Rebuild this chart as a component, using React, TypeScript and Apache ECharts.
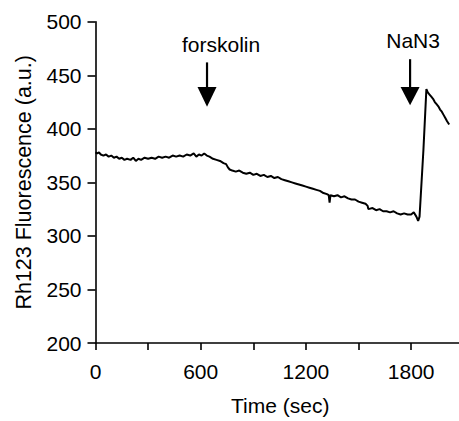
import React, { useEffect, useRef } from "react";
import * as echarts from "echarts";

const times = [
  0, 10, 20, 30, 45, 60, 75, 90, 105, 120, 135, 150, 165, 180, 200, 215, 230, 245, 260, 280,
  300, 320, 340, 360, 380, 400, 420, 440, 460, 480, 500, 520, 540, 560, 575, 590, 605, 620, 635, 650,
  670, 690, 710, 730, 745, 755, 765, 780, 800, 820, 840, 860, 880, 900, 920, 940, 960, 980, 1000, 1020,
  1040, 1060, 1080, 1100, 1120, 1140, 1160, 1180, 1200, 1220, 1240, 1260, 1280, 1300, 1320, 1330, 1335, 1340, 1360, 1380,
  1400, 1420, 1440, 1460, 1480, 1500, 1520, 1540, 1552, 1556, 1580, 1600, 1620, 1640, 1660, 1680, 1700, 1720, 1740, 1760,
  1780, 1800, 1815, 1830, 1840, 1848, 1870, 1887, 1895, 1905, 1915, 1925, 1935, 1945, 1955, 1965, 1975, 1985, 1995, 2005,
  2017,
];
const fluorescence = [
  378, 377, 378, 376, 375, 376, 374, 375, 373, 374, 372, 373, 371, 372, 371, 373, 370, 372, 371, 373,
  372, 373, 372, 374, 373, 374, 373, 375, 374, 375, 374, 376, 375, 377, 374, 376, 375, 377, 375, 374,
  372, 371, 370, 368, 367, 364, 362, 361, 360, 361, 359, 358, 359, 357, 358, 356, 357, 355, 356, 354,
  355, 353, 352, 351, 350, 349, 348, 347, 346, 345, 344, 343, 342, 340, 339, 338, 331, 338, 337, 338,
  336, 337, 335, 334, 334, 332, 331, 330, 328, 325, 326, 324, 325, 323, 323, 322, 323, 321, 320, 321,
  320, 320, 322, 318, 314, 318, 380, 437, 434, 432, 430, 428, 425, 423, 421, 418, 416, 413, 410, 407,
  404,
];

const yTicks = [200, 250, 300, 350, 400, 450, 500];
const xTickValues = [0, 300, 600, 900, 1200, 1500, 1800];
const xLabelValues = [0, 600, 1200, 1800];
const xMax = 2073;

const annotationLabels = ["forskolin", "NaN3"];
const annotationTime = [636, 1794];
const arrowTop = [462, 465];
const arrowHeadBase = [439, 439];
const arrowTip = [420.5, 422];
const labelTime = [716, 1811];
const labelValue = [479, 482.5];

const FONT = "Liberation Sans, Arial, Helvetica, sans-serif";

export default function App() {
  const ref = useRef<HTMLDivElement>(null);
  useEffect(() => {
    if (!ref.current) return;
    const chart = echarts.init(ref.current, undefined, { renderer: "svg" });
    const annData = annotationLabels.map((_, i) => [
      annotationTime[i],
      arrowTop[i],
      arrowHeadBase[i],
      arrowTip[i],
      labelTime[i],
      labelValue[i],
    ]);
    chart.setOption({
      animation: false,
      backgroundColor: "#ffffff",
      grid: { left: 95.5, right: 0, top: 21.7, bottom: 74.3, containLabel: false },
      xAxis: {
        type: "value",
        min: 0,
        max: xMax,
        interval: 300,
        name: "Time (sec)",
        nameLocation: "middle",
        nameGap: 52,
        nameTextStyle: { fontFamily: FONT, fontSize: 21, color: "#000", padding: [0, 0, 0, 6] },
        axisLine: { show: true, lineStyle: { color: "#000", width: 1.6 } },
        axisTick: {
          show: true,
          length: 7,
          inside: false,
          customValues: xTickValues,
          lineStyle: { color: "#000", width: 1.6 },
        },
        axisLabel: {
          fontFamily: FONT,
          fontSize: 21,
          color: "#000",
          margin: 18,
          customValues: xLabelValues,
          formatter: (v: number) => (xLabelValues.indexOf(v) >= 0 ? String(v) : ""),
        },
        splitLine: { show: false },
      },
      yAxis: {
        type: "value",
        min: yTicks[0],
        max: yTicks[yTicks.length - 1],
        interval: 50,
        name: "Rh123 Fluorescence (a.u.)",
        nameLocation: "middle",
        nameGap: 61,
        nameRotate: 90,
        nameTextStyle: { fontFamily: FONT, fontSize: 21.5, color: "#000" },
        axisLine: { show: true, lineStyle: { color: "#000", width: 1.6 } },
        axisTick: { show: true, length: 8, inside: false, lineStyle: { color: "#000", width: 1.6 } },
        axisLabel: { fontFamily: FONT, fontSize: 21, color: "#000", margin: 14 },
        splitLine: { show: false },
      },
      series: [
        {
          type: "line",
          data: times.map((t, i) => [t, fluorescence[i]]),
          showSymbol: false,
          symbol: "none",
          lineStyle: { color: "#000", width: 2 },
          itemStyle: { color: "#000" },
          z: 3,
        },
        {
          type: "custom",
          data: annData,
          z: 4,
          renderItem: (params: any, api: any) => {
            const x = api.value(0);
            const top = api.coord([x, api.value(1)]);
            const base = api.coord([x, api.value(2)]);
            const tip = api.coord([x, api.value(3)]);
            const txt = api.coord([api.value(4), api.value(5)]);
            return {
              type: "group",
              children: [
                {
                  type: "line",
                  shape: { x1: top[0], y1: top[1], x2: base[0], y2: base[1] + 1 },
                  style: { stroke: "#000", lineWidth: 2.2 },
                },
                {
                  type: "polygon",
                  shape: {
                    points: [
                      [base[0] - 9.5, base[1]],
                      [base[0] + 9.5, base[1]],
                      [tip[0], tip[1]],
                    ],
                  },
                  style: { fill: "#000" },
                },
                {
                  type: "text",
                  x: txt[0],
                  y: txt[1],
                  style: {
                    text: annotationLabels[params.dataIndex],
                    fill: "#000",
                    fontFamily: FONT,
                    fontSize: 21,
                    align: "center",
                    verticalAlign: "middle",
                  },
                },
              ],
            };
          },
        },
      ],
    });
    return () => chart.dispose();
  }, []);
  return (
    <div
      ref={ref}
      style={{ position: "fixed", left: 0, top: 0, width: 459, height: 421, background: "#fff" }}
    />
  );
}
